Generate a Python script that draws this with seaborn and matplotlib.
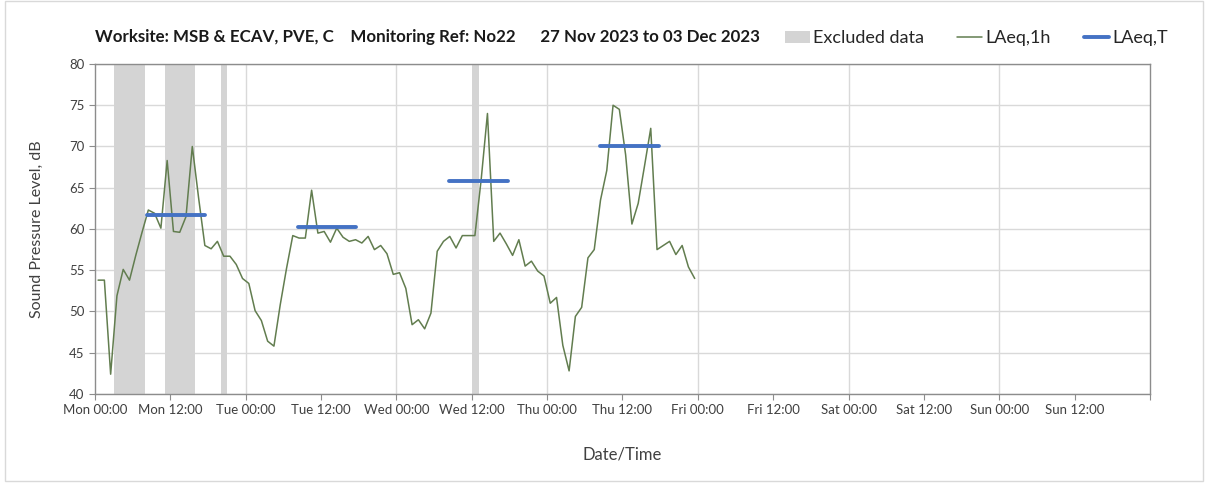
import numpy as np
import pandas as pd
import seaborn as sns
import matplotlib.pyplot as plt
from matplotlib.patches import Patch, Rectangle
from matplotlib.lines import Line2D

# hourly LAeq,1h values (Mon 00:30 onwards)
hours = np.arange(96) + 0.5
laeq_1h = [53.8, 53.8, 42.4, 51.9, 55.1, 53.8, 56.8, 59.6, 62.3, 61.9,
           60.1, 68.3, 59.7, 59.6, 61.5, 70.0, 63.8, 58.0, 57.6, 58.5,
           56.7, 56.7, 55.7, 54.0, 53.4, 50.1, 48.9, 46.4, 45.8, 50.8,
           55.2, 59.2, 58.9, 58.9, 64.7, 59.5, 59.7, 58.4, 60.1, 59.0,
           58.5, 58.7, 58.3, 59.1, 57.5, 58.0, 57.0, 54.5, 54.7, 52.8,
           48.4, 49.0, 47.9, 49.8, 57.3, 58.5, 59.1, 57.7, 59.2, 59.2,
           59.2, 66.0, 74.0, 58.5, 59.5, 58.2, 56.8, 58.7, 55.5, 56.1,
           54.9, 54.3, 51.0, 51.7, 45.9, 42.8, 49.4, 50.5, 56.5, 57.5,
           63.5, 67.1, 75.0, 74.5, 69.0, 60.6, 63.1, 67.6, 72.2, 57.5,
           58.0, 58.5, 56.9, 58.0, 55.4, 54.0]

# LAeq,T periods
leqT_start = [8.3, 32.4, 56.4, 80.4]
leqT_end = [17.6, 41.6, 65.7, 89.8]
leqT_value = [61.7, 60.2, 65.8, 70.0]

# excluded data periods (hours from Mon 00:00)
excl_start = [3.0, 11.1, 20.0, 60.1]
excl_end = [8.0, 16.0, 21.0, 61.1]

tick_labels = ["Mon 00:00", "Mon 12:00", "Tue 00:00", "Tue 12:00", "Wed 00:00",
               "Wed 12:00", "Thu 00:00", "Thu 12:00", "Fri 00:00", "Fri 12:00",
               "Sat 00:00", "Sat 12:00", "Sun 00:00", "Sun 12:00", ""]

sns.set_style("white")
plt.rcParams['font.family'] = ['Lato', 'DejaVu Sans']

df = pd.DataFrame({"hour": hours, "LAeq,1h": laeq_1h})

fig = plt.figure(figsize=(12.08, 4.87), dpi=100)
ax = fig.add_axes([0.0786, 0.191, 0.8734, 0.6776])

green = "#627d4f"
blue = "#4472c4"
grey = "#d4d4d4"

for s, e in zip(excl_start, excl_end):
    ax.axvspan(s, e, color=grey, lw=0, zorder=1)

sns.lineplot(data=df, x="hour", y="LAeq,1h", ax=ax, color=green, lw=1.1, zorder=3)

for s, e, v in zip(leqT_start, leqT_end, leqT_value):
    ax.plot([s, e], [v, v], color=blue, lw=2.8, zorder=4)

ax.set_xlim(0, 168)
ax.set_ylim(40, 80)
ax.set_xticks(np.arange(0, 169, 12))
ax.set_xticklabels(tick_labels, fontsize=9.5, color="#404040")
ax.set_yticks(np.arange(40, 81, 5))
ax.set_yticklabels([str(v) for v in range(40, 81, 5)], fontsize=9.5, color="#404040")

# gridlines: horizontal every 5 dB, vertical every day
ax.grid(axis="y", color="#d9d9d9", lw=1, zorder=0)
for d in range(24, 168, 24):
    ax.axvline(d, color="#d9d9d9", lw=1, zorder=0)

for sp in ax.spines.values():
    sp.set_color("#8c8c8c")
    sp.set_linewidth(1)
ax.tick_params(axis="both", length=4, color="#8c8c8c", direction="out", bottom=True, left=True)

ax.set_xlabel("Date/Time", fontsize=12, color="#404040", labelpad=22)
ax.set_ylabel("Sound Pressure Level, dB", fontsize=11.5, color="#404040", labelpad=18)

fig.text(0.0786, 0.924,
         "Worksite: MSB & ECAV, PVE, C    Monitoring Ref: No22      27 Nov 2023 to 03 Dec 2023",
         fontsize=12.2, fontweight="bold", color="#1a1a1a", va="center", ha="left")

handles = [Patch(facecolor=grey, edgecolor="none", label="Excluded data"),
           Line2D([0], [0], color=green, lw=1.1, label="LAeq,1h"),
           Line2D([0], [0], color=blue, lw=2.8, label="LAeq,T")]
fig.legend(handles=handles, loc="center left", bbox_to_anchor=(0.636, 0.921),
           ncol=3, frameon=False, fontsize=13, handlelength=1.4,
           handletextpad=0.2, columnspacing=1.8, labelcolor="#262626")

fig.add_artist(Rectangle((0.004, 0.012), 0.992, 0.986, transform=fig.transFigure,
                         fill=False, edgecolor="#d9d9d9", lw=1))

fig.savefig("out.png", dpi=100)
